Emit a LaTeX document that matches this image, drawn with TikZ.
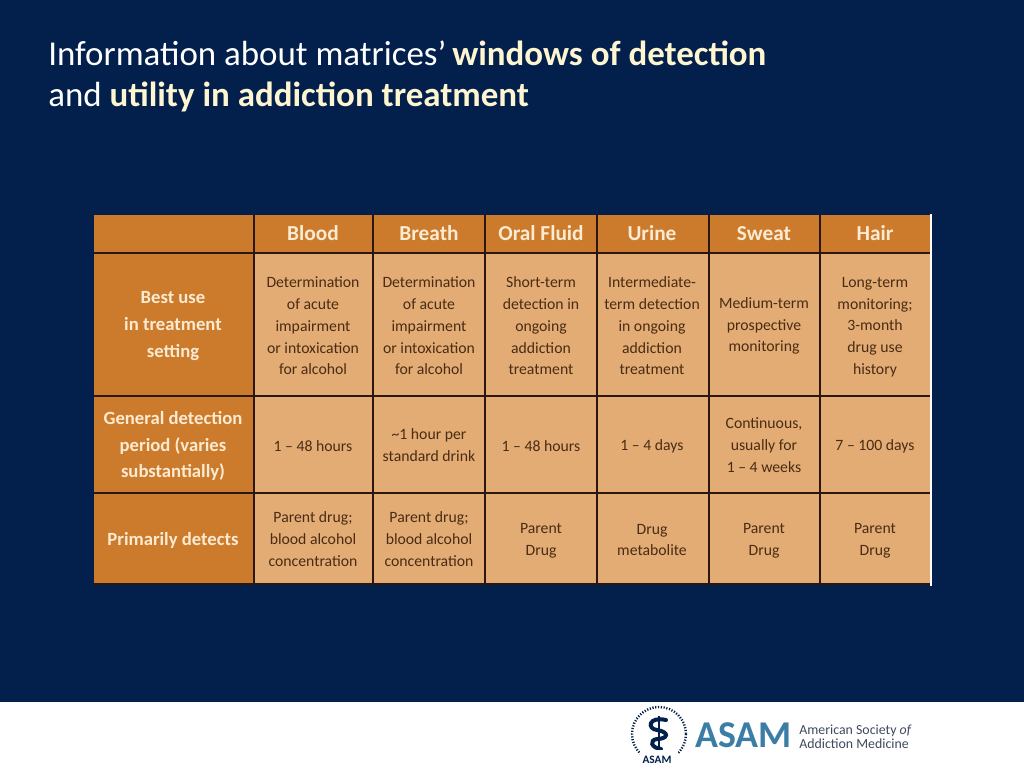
\documentclass[tikz,border=0pt]{standalone}
\usepackage{fontspec}
\setmainfont{Carlito}
\definecolor{navy}{HTML}{03204C}
\definecolor{hdr}{HTML}{CC7A2B}
\definecolor{cellc}{HTML}{E2AC74}
\definecolor{rulec}{HTML}{2A1710}
\definecolor{titlec}{HTML}{FDF6D0}
\definecolor{txtc}{HTML}{4A2C14}
\definecolor{hdrtxt}{HTML}{FBEBD2}
\definecolor{asamb}{HTML}{3B7DA6}
\definecolor{asamg}{HTML}{3F4A5E}
\tikzset{
 x=0.75pt,y=-0.75pt,
 gridline/.style={draw=rulec,line width=1.1pt},
 collabel/.style={text=hdrtxt,font=\fontsize{16}{18}\selectfont\bfseries,anchor=base,inner sep=0},
 rowlabel/.style={text=hdrtxt,font=\fontsize{14}{20}\selectfont\bfseries,align=center,anchor=center,inner sep=0},
 body/.style={text=txtc,font=\fontsize{11.8}{16.3}\selectfont,align=center,anchor=center,inner sep=0},
 titletext/.style={anchor=base west,inner sep=0,font=\fontsize{26.2}{30}\selectfont,text=white},
}
\begin{document}
\begin{tikzpicture}
\useasboundingbox (0,0) rectangle (1024,768);
\fill[navy] (0,0) rectangle (1024,702);
\fill[white] (0,702) rectangle (1024,768);
\node[titletext] (t1) at (48,65) {Information about matrices’\hspace{-1.5pt} \textcolor{titlec}{\bfseries windows of detection}};
\node[titletext] (t2) at (48,106) {and \textcolor{titlec}{\bfseries utility in addiction treatment}};
% table
\fill[white] (930,214) rectangle (932,586);
\fill[cellc] (94,215) rectangle (930,584);
\fill[hdr] (94,215) rectangle (930,253);
\fill[hdr] (94,215) rectangle (254,584);
\foreach \yy in {253,396,493,584} \draw[gridline] (94,\yy) -- (930,\yy);
\foreach \xx in {254,373,485,597,709,820} \draw[gridline] (\xx,215) -- (\xx,584);
\node[collabel] (c1) at (313,240) {Blood};
\node[collabel] (c2) at (429,240) {Breath};
\node[collabel] (c3) at (541,240) {Oral Fluid};
\node[collabel] (c4) at (652,240) {Urine};
\node[collabel] (c5) at (764,240) {Sweat};
\node[collabel] (c6) at (875,240) {Hair};
\node[rowlabel] (r1) at (173,326) {Best use\\in treatment\\setting};
\node[rowlabel] (r2) at (173,446) {General detection\\period (varies\\substantially)};
\node[rowlabel] (r3) at (173,540) {Primarily detects};
\node[body] (a1) at (313,326) {Determination\\of acute\\impairment\\or intoxication\\for alcohol};
\node[body] (a2) at (429,326) {Determination\\of acute\\impairment\\or intoxication\\for alcohol};
\node[body] (a3) at (541,326) {Short-term\\detection in\\ongoing\\addiction\\treatment};
\node[body] (a4) at (652,326) {Intermediate-\\term detection\\in ongoing\\addiction\\treatment};
\node[body] (a5) at (764,326) {Medium-term\\prospective\\monitoring};
\node[body] (a6) at (875,327) {Long-term\\monitoring;\\3-month\\drug use\\history};
\node[body] (b1) at (313,446) {1 – 48 hours};
\node[body] (b2) at (429,445) {\textasciitilde1 hour per\\standard drink};
\node[body] (b3) at (541,446) {1 – 48 hours};
\node[body] (b4) at (652,446) {1 – 4 days};
\node[body] (b5) at (764,445) {Continuous,\\usually for\\1 – 4 weeks};
\node[body] (b6) at (875,446) {7 – 100 days};
\node[body] (d1) at (313,539) {Parent drug;\\blood alcohol\\concentration};
\node[body] (d2) at (429,539) {Parent drug;\\blood alcohol\\concentration};
\node[body] (d3) at (541,541) {Parent\\Drug};
\node[body] (d4) at (652,540) {Drug\\metabolite};
\node[body] (d5) at (764,541) {Parent\\Drug};
\node[body] (d6) at (875,541) {Parent\\Drug};
% logo
\draw[navy,line width=1.8pt,dash pattern=on 0.9pt off 1.2pt] (659,734) circle (27);
\draw[navy,line width=1.6pt] (659,716) -- (659,750);
\draw[navy,line width=3pt,line cap=round] (666,720) .. controls (648,716) and (647,729) .. (657,730) .. controls (670,732) and (668,739) .. (657,739) .. controls (649,740) and (651,748) .. (661,749);
\fill[white] (640,750) rectangle (678,768);
\node[inner sep=0,text=navy,font=\fontsize{8.5}{9}\selectfont\bfseries] (seal) at (657,760) {ASAM};
\node[inner sep=0,anchor=base west,text=asamb,font=\fontsize{28.4}{30}\selectfont\bfseries] (asam) at (695,747) {ASAM};
\node[inner sep=0,anchor=base west,text=asamg,font=\fontsize{10.4}{12}\selectfont] (l1) at (799,734) {American Society \textit{of}};
\node[inner sep=0,anchor=base west,text=asamg,font=\fontsize{10.4}{12}\selectfont] (l2) at (799,748) {Addiction Medicine};
\end{tikzpicture}
\end{document}
